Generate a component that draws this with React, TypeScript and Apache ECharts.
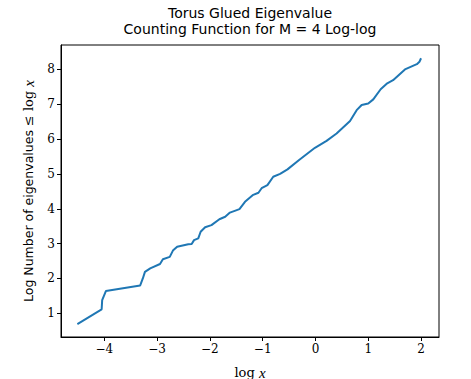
import React, { useEffect, useRef } from "react";
import * as echarts from "echarts";

const titleLines = ["Torus Glued Eigenvalue", "Counting Function for M = 4 Log-log"];
const xTicks = [-4, -3, -2, -1, 0, 1, 2];
const yTicks = [1, 2, 3, 4, 5, 6, 7, 8];
const logX = [
  -4.51, -4.05, -4.04, -3.97, -3.32, -3.27, -3.23, -3.13, -2.945, -2.89, -2.76, -2.7, -2.62, -2.41,
  -2.345, -2.3, -2.22, -2.175, -2.09, -1.97, -1.82, -1.71, -1.62, -1.44, -1.335, -1.19, -1.08, -1.02,
  -0.91, -0.8, -0.67, -0.53, -0.31, -0.01, 0.21, 0.4, 0.655, 0.78, 0.875, 1.0, 1.095, 1.235, 1.36,
  1.47, 1.695, 1.92, 1.97, 2.0,
];
const logN = [
  0.69, 1.115, 1.38, 1.64, 1.8, 2.0, 2.19, 2.29, 2.415, 2.55, 2.62, 2.8, 2.91, 2.98, 2.99, 3.1, 3.15,
  3.34, 3.47, 3.53, 3.7, 3.77, 3.89, 3.99, 4.2, 4.39, 4.46, 4.59, 4.68, 4.92, 5.0, 5.13, 5.4, 5.75,
  5.95, 6.16, 6.52, 6.83, 6.98, 7.02, 7.14, 7.43, 7.6, 7.69, 8.0, 8.15, 8.22, 8.32,
];

const serif = "'DejaVu Serif', serif";
const italicSerif = "'Liberation Serif', serif";
const sans = "'DejaVu Sans', sans-serif";
const fmt = (v: number) => String(v).replace("-", "\u2212");

export default function App() {
  const ref = useRef<HTMLDivElement>(null);
  useEffect(() => {
    if (!ref.current) return;
    const chart = echarts.init(ref.current, null, { renderer: "svg" });
    chart.setOption({
      animation: false,
      backgroundColor: "#fff",
      grid: {
        left: 61,
        right: 32,
        top: 45,
        bottom: 42,
        show: true,
        borderColor: "#000",
        borderWidth: 1,
        containLabel: false,
        outerBoundsMode: "none",
      },
      graphic: titleLines.map((t, i) => ({
        type: "text",
        x: 250,
        y: 12.5 + i * 16.5,
        style: {
          text: t,
          fill: "#000",
          font: `14px ${sans}`,
          textAlign: "center",
          textVerticalAlign: "middle",
        },
      })),
      xAxis: {
        type: "value",
        min: -4.82,
        max: 2.34,
        splitLine: { show: false },
        axisLine: { show: true, onZero: false, lineStyle: { color: "#000", width: 1 } },
        axisTick: { show: true, length: 4, customValues: xTicks, lineStyle: { color: "#000" } },
        axisLabel: {
          customValues: xTicks,
          formatter: fmt,
          color: "#000",
          fontFamily: serif,
          fontSize: 12,
          margin: 6,
        },
        name: "{a|log }{b|x}",
        nameLocation: "middle",
        nameGap: 28,
        nameTextStyle: {
          rich: {
            a: { fontFamily: serif, fontSize: 13, color: "#000" },
            b: { fontFamily: italicSerif, fontSize: 15, fontStyle: "italic", color: "#000" },
          },
        },
      },
      yAxis: {
        type: "value",
        min: 0.32,
        max: 8.7,
        splitLine: { show: false },
        axisLine: { show: true, onZero: false, lineStyle: { color: "#000", width: 1 } },
        axisTick: { show: true, length: 4, customValues: yTicks, lineStyle: { color: "#000" } },
        axisLabel: {
          customValues: yTicks,
          formatter: fmt,
          color: "#000",
          fontFamily: serif,
          fontSize: 12,
          margin: 6,
        },
        name: "{a|Log Number of eigenvalues }{b|\u2264 log }{c|x}",
        nameLocation: "middle",
        nameGap: 24,
        nameTextStyle: {
          rich: {
            a: { fontFamily: sans, fontSize: 12.5, color: "#000" },
            b: { fontFamily: serif, fontSize: 13, color: "#000" },
            c: { fontFamily: italicSerif, fontSize: 15, fontStyle: "italic", color: "#000" },
          },
        },
      },
      series: [
        {
          type: "line",
          data: logX.map((x, i) => [x, logN[i]]),
          showSymbol: false,
          lineStyle: { color: "#1f77b4", width: 2 },
          itemStyle: { color: "#1f77b4" },
        },
      ],
    });
    return () => chart.dispose();
  }, []);
  return <div ref={ref} style={{ width: 471, height: 379, position: "absolute", left: 0, top: 0 }} />;
}
